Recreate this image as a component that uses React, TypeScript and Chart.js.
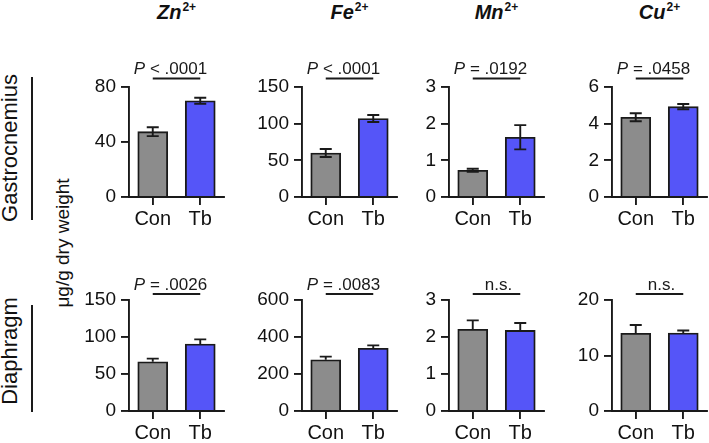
import React, { useEffect, useRef } from "react";
import { Chart, registerables } from "chart.js";

Chart.register(...registerables);

const categories = ["Con", "Tb"];
const ions = ["Zn", "Fe", "Mn", "Cu"];
const tissues = ["Gastrocnemius", "Diaphragm"];
const yAxisTitle = "μg/g dry weight";

const gastroMeans = [[47.5, 70], [60, 107], [0.73, 1.63], [4.35, 4.93]];
const gastroErrors = [[3.2, 2.2], [5.5, 4.8], [0.04, 0.33], [0.22, 0.14]];
const gastroMax = [80, 150, 3, 6];
const gastroStep = [40, 50, 1, 2];
const gastroP = ["< .0001", "< .0001", "= .0192", "= .0458"];

const diaMeans = [[66.5, 90.5], [277, 339], [2.21, 2.18], [14, 14.05]];
const diaErrors = [[4.3, 6.3], [17, 16], [0.24, 0.2], [1.5, 0.45]];
const diaMax = [150, 600, 3, 20];
const diaStep = [50, 200, 1, 10];
const diaP = ["= .0026", "= .0083", "n.s.", "n.s."];

const FONT = "'Liberation Sans', Arial, Helvetica, sans-serif";
const INK = "#1a1a1a";
const GRAY = "#8c8c8c";
const BLUE = "#5555f8";

const COL_AXIS_X = [129, 302, 449, 612];
const Y_AXIS_W = 50;
const CANVAS_W = 147;
const ROWS = [
  { top: 45, padTop: 42, area: 110, xh: 36, bracketGap: 8.5, both: true },
  { top: 258, padTop: 42, area: 111, xh: 32, bracketGap: 6, both: false },
];

const errorBarPlugin = {
  id: "errorBars",
  afterDatasetsDraw(chart: any) {
    const opts = chart.options.plugins.errorBars;
    const meta = chart.getDatasetMeta(0);
    const y = chart.scales.y;
    const ctx = chart.ctx;
    ctx.save();
    ctx.strokeStyle = INK;
    ctx.lineWidth = 1.9;
    meta.data.forEach((bar: any, i: number) => {
      const m = opts.means[i];
      const e = opts.errors[i];
      const yTop = y.getPixelForValue(m + e);
      const yBot = opts.both ? y.getPixelForValue(m - e) : y.getPixelForValue(m);
      const half = 6;
      ctx.beginPath();
      ctx.moveTo(bar.x, yTop);
      ctx.lineTo(bar.x, yBot);
      ctx.moveTo(bar.x - half, yTop);
      ctx.lineTo(bar.x + half, yTop);
      if (opts.both) {
        ctx.moveTo(bar.x - half, yBot);
        ctx.lineTo(bar.x + half, yBot);
      }
      ctx.stroke();
    });
    ctx.restore();
  },
};

const annotationPlugin = {
  id: "sigBracket",
  afterDraw(chart: any) {
    const opts = chart.options.plugins.sigBracket;
    const x = chart.scales.x;
    const ctx = chart.ctx;
    const xa = x.getPixelForValue(0);
    const xb = x.getPixelForValue(1);
    const yLine = chart.chartArea.top - opts.gap;
    ctx.save();
    ctx.strokeStyle = INK;
    ctx.lineWidth = 1.9;
    ctx.beginPath();
    ctx.moveTo(xa, yLine);
    ctx.lineTo(xb, yLine);
    ctx.stroke();
    ctx.fillStyle = INK;
    ctx.textBaseline = "alphabetic";
    ctx.textAlign = "left";
    const mid = (xa + xb) / 2;
    const baseY = yLine - 4.5;
    const label: string = opts.label;
    if (label === "n.s.") {
      ctx.font = `17px ${FONT}`;
      const w = ctx.measureText(label).width;
      ctx.fillText(label, mid - w / 2 + 2, baseY);
    } else {
      ctx.font = `italic 17px ${FONT}`;
      const wp = ctx.measureText("P").width;
      ctx.font = `17px ${FONT}`;
      const rest = " " + label;
      const wr = ctx.measureText(rest).width;
      const start = mid - (wp + wr) / 2 - 6;
      ctx.font = `italic 17px ${FONT}`;
      ctx.fillText("P", start, baseY);
      ctx.font = `17px ${FONT}`;
      ctx.fillText(rest, start + wp, baseY);
    }
    ctx.restore();
  },
};

function Panel(props: {
  row: number;
  col: number;
  means: number[];
  errors: number[];
  max: number;
  step: number;
  label: string;
}) {
  const ref = useRef<HTMLCanvasElement | null>(null);
  const r = ROWS[props.row];
  const height = r.padTop + r.area + r.xh;
  useEffect(() => {
    if (!ref.current) return;
    const chart = new Chart(ref.current, {
      type: "bar",
      data: {
        labels: categories,
        datasets: [
          {
            data: props.means,
            backgroundColor: [GRAY, BLUE],
            borderColor: INK,
            borderWidth: 1.9,
            barThickness: 30,
          },
        ],
      },
      options: {
        animation: false,
        responsive: false,
        events: [],
        layout: { padding: { top: r.padTop, left: 0, right: 2, bottom: 0 } },
        plugins: {
          legend: { display: false },
          tooltip: { enabled: false },
          errorBars: { means: props.means, errors: props.errors, both: r.both },
          sigBracket: { label: props.label, gap: r.bracketGap },
        } as any,
        scales: {
          x: {
            type: "category",
            offset: true,
            grid: {
              display: true,
              drawOnChartArea: false,
              drawTicks: true,
              tickLength: 8,
              lineWidth: 1.9,
              tickWidth: 1.9,
              color: INK,
              tickColor: INK,
              offset: false,
            },
            border: { display: true, color: INK, width: 1.9 },
            ticks: { font: { family: FONT, size: 20 }, color: "#111", padding: 2, maxRotation: 0 },
            afterFit: (s: any) => {
              s.height = r.xh;
            },
          },
          y: {
            min: 0,
            max: props.max,
            ticks: { stepSize: props.step, font: { family: FONT, size: 19 }, color: "#111", padding: 5 },
            grid: {
              display: true,
              drawOnChartArea: false,
              drawTicks: true,
              tickLength: 8,
              lineWidth: 1.9,
              tickWidth: 1.9,
              color: INK,
              tickColor: INK,
            },
            border: { display: true, color: INK, width: 1.9 },
            afterFit: (s: any) => {
              s.width = Y_AXIS_W;
            },
          },
        },
      } as any,
      plugins: [errorBarPlugin, annotationPlugin],
    });
    return () => chart.destroy();
  }, []);
  return (
    <canvas
      ref={ref}
      width={CANVAS_W}
      height={height}
      style={{
        position: "absolute",
        left: COL_AXIS_X[props.col] - Y_AXIS_W,
        top: r.top,
        width: CANVAS_W,
        height,
      }}
    />
  );
}

export default function App() {
  const rowData = [
    { means: gastroMeans, errors: gastroErrors, max: gastroMax, step: gastroStep, p: gastroP },
    { means: diaMeans, errors: diaErrors, max: diaMax, step: diaStep, p: diaP },
  ];
  const rowLabelCenters = [148, 351];
  const rowLines = [
    { top: 77, height: 143 },
    { top: 305, height: 107 },
  ];
  return (
    <div
      style={{
        position: "absolute",
        left: 0,
        top: 0,
        width: 709,
        height: 443,
        overflow: "hidden",
        background: "#fff",
        fontFamily: FONT,
        color: "#111",
      }}
    >
      {ions.map((ion, c) => (
        <div
          key={"h" + ion}
          style={{
            position: "absolute",
            left: COL_AXIS_X[c] + 47.5,
            top: 2,
            transform: "translateX(-50%)",
            fontSize: 20,
            lineHeight: 1,
            fontWeight: "bold",
            fontStyle: "italic",
            whiteSpace: "nowrap",
          }}
        >
          {ion}
          <span style={{ fontSize: 12, fontStyle: "normal", position: "relative", top: -8, marginLeft: 1 }}>2+</span>
        </div>
      ))}
      {tissues.map((t, i) => (
        <React.Fragment key={t}>
          <div
            style={{
              position: "absolute",
              left: 9.5,
              top: rowLabelCenters[i],
              transform: "translate(-50%, -50%) rotate(-90deg)",
              fontSize: 22,
              lineHeight: 1,
              whiteSpace: "nowrap",
            }}
          >
            {t}
          </div>
          <div
            style={{
              position: "absolute",
              left: 31,
              top: rowLines[i].top,
              width: 2,
              height: rowLines[i].height,
              background: INK,
            }}
          />
        </React.Fragment>
      ))}
      <div
        style={{
          position: "absolute",
          left: 62,
          top: 243,
          transform: "translate(-50%, -50%) rotate(-90deg)",
          fontSize: 19,
          lineHeight: 1,
          whiteSpace: "nowrap",
        }}
      >
        {yAxisTitle}
      </div>
      {rowData.map((rd, ri) =>
        ions.map((ion, c) => (
          <Panel
            key={ri + ion}
            row={ri}
            col={c}
            means={rd.means[c]}
            errors={rd.errors[c]}
            max={rd.max[c]}
            step={rd.step[c]}
            label={rd.p[c]}
          />
        ))
      )}
    </div>
  );
}
